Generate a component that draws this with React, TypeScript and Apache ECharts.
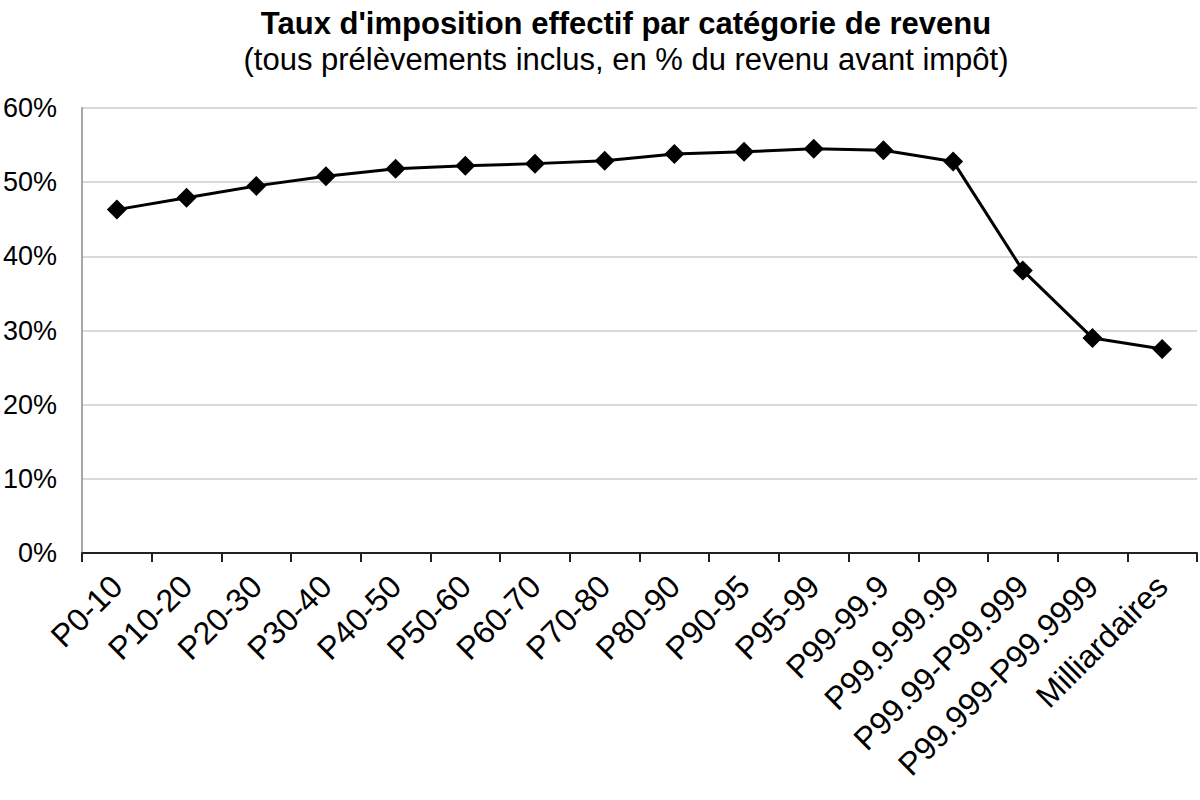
import React, { useEffect, useRef } from "react";
import * as echarts from "echarts";

const categories = [
  "P0-10", "P10-20", "P20-30", "P30-40", "P40-50", "P50-60", "P60-70", "P70-80",
  "P80-90", "P90-95", "P95-99", "P99-99.9", "P99.9-99.99", "P99.99-P99.999",
  "P99.999-P99.9999", "Milliardaires",
];
const taux = [46.3, 47.9, 49.5, 50.8, 51.8, 52.2, 52.5, 52.9, 53.8, 54.1, 54.5, 54.3, 52.8, 38.1, 29.0, 27.5];
const yTicks = [0, 10, 20, 30, 40, 50, 60];

const titleText = "Taux d'imposition effectif par catégorie de revenu";
const subtitleText = "(tous prélèvements inclus, en % du revenu avant impôt)";

export default function App() {
  const ref = useRef<HTMLDivElement>(null);
  useEffect(() => {
    document.body.style.margin = "0";
    const chart = echarts.init(ref.current!, null, { renderer: "svg" });
    const font = "'Liberation Sans', Arial, sans-serif";
    chart.setOption({
      animation: false,
      backgroundColor: "#ffffff",
      textStyle: { fontFamily: font },
      title: {
        text: titleText,
        subtext: subtitleText,
        left: 621,
        textAlign: "center",
        top: 3,
        itemGap: 5,
        textStyle: { fontFamily: font, fontSize: 31, fontWeight: "bold", color: "#000" },
        subtextStyle: { fontFamily: font, fontSize: 31, color: "#000" },
      },
      grid: { left: 82, right: 3, top: 108, bottom: 247, containLabel: false },
      xAxis: {
        type: "category",
        data: categories,
        boundaryGap: true,
        axisLine: { show: true, lineStyle: { color: "#222", width: 2 } },
        axisTick: { show: true, alignWithLabel: false, length: 9, lineStyle: { color: "#222", width: 2 } },
        axisLabel: {
          interval: 0,
          rotate: 45,
          margin: 28,
          fontSize: 32,
          color: "#000",
          fontFamily: font,
        },
        splitLine: { show: false },
      },
      yAxis: {
        type: "value",
        min: yTicks[0],
        max: yTicks[yTicks.length - 1],
        interval: 10,
        axisLine: { show: true, lineStyle: { color: "#a6a6a6", width: 2 } },
        axisTick: { show: false },
        axisLabel: {
          formatter: (v: number) => `${v}%`,
          fontSize: 27,
          color: "#000",
          margin: 25,
          fontFamily: font,
        },
        splitLine: { show: true, lineStyle: { color: "#d9d9d9", width: 2 } },
      },
      series: [
        {
          type: "line",
          data: taux,
          symbol: "diamond",
          symbolSize: 20,
          lineStyle: { color: "#000", width: 3 },
          itemStyle: { color: "#000" },
          z: 5,
        },
      ],
    });
    return () => chart.dispose();
  }, []);
  return <div ref={ref} style={{ width: 1200, height: 800 }} />;
}
